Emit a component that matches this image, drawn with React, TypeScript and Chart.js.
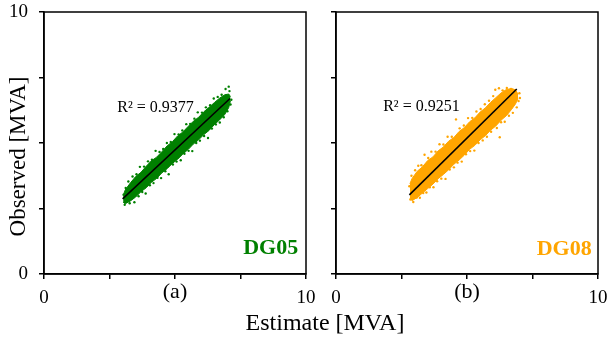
import React, { useEffect, useRef } from "react";
import { Chart, registerables } from "chart.js";

Chart.register(...registerables);

// ---------------- data ----------------
const tickValues = [0, 2.5, 5, 7.5, 10];
const shownTickLabels = ["0", "10"];

// Panel (a) DG05 — dense core of the cloud (upper / lower envelope) plus scattered edge points
const dg05BandX = [3.02, 3.1, 3.3, 3.5, 3.7, 3.9, 4.1, 4.3, 4.5, 4.7, 4.9, 5.1, 5.3, 5.5, 5.7, 5.9, 6.1, 6.3, 6.5, 6.7, 6.9, 7.05, 7.12];
const dg05BandHigh = [2.99, 3.21, 3.48, 3.72, 3.88, 4.11, 4.32, 4.46, 4.67, 4.89, 5.05, 5.27, 5.42, 5.63, 5.83, 5.98, 6.19, 6.36, 6.54, 6.71, 6.84, 6.87, 6.77];
const dg05BandLow = [2.74, 2.68, 2.79, 2.94, 3.14, 3.29, 3.5, 3.65, 3.86, 4.02, 4.22, 4.38, 4.58, 4.75, 4.96, 5.12, 5.32, 5.48, 5.7, 5.88, 6.09, 6.35, 6.62];
const dg05PointX = [3.04, 3.08, 3.12, 3.22, 3.27, 3.38, 3.45, 3.53, 3.61, 3.66, 3.75, 3.82, 3.88, 3.97, 4.04, 4.12, 4.18, 4.26, 4.33, 4.41, 4.47, 4.55, 4.63, 4.69, 4.76, 4.84, 4.92, 4.98, 5.06, 5.14, 5.22, 5.28, 5.36, 5.43, 5.52, 5.58, 5.66, 5.74, 5.81, 5.87, 5.95, 6.03, 6.11, 6.18, 6.26, 6.34, 6.41, 6.48, 6.56, 6.63, 6.71, 6.78, 6.86, 6.93, 7.0, 7.08, 7.12, 7.15, 7.05, 6.95];
const dg05PointY = [3.03, 2.64, 3.28, 3.53, 2.7, 3.72, 2.74, 3.81, 2.97, 4.09, 3.13, 4.1, 3.07, 4.3, 3.39, 4.36, 3.47, 4.7, 3.67, 4.66, 3.66, 4.77, 3.92, 5.0, 3.81, 5.04, 4.18, 5.34, 4.29, 5.33, 4.34, 5.48, 4.59, 5.72, 4.7, 5.73, 4.69, 5.93, 5.0, 6.17, 5.09, 6.16, 5.27, 6.36, 5.19, 6.44, 5.55, 6.7, 5.71, 6.76, 5.78, 6.84, 5.98, 7.06, 6.21, 6.98, 6.47, 6.65, 7.15, 6.81];
const dg05FitX = [3.0, 7.1];
const dg05FitY = [2.87, 6.7];
const dg05R2 = "R² = 0.9377";
const dg05Tag = "DG05";

// Panel (b) DG08
const dg08BandX = [2.82, 2.9, 3.1, 3.3, 3.5, 3.7, 3.9, 4.1, 4.3, 4.5, 4.7, 4.9, 5.1, 5.3, 5.5, 5.7, 5.9, 6.1, 6.3, 6.5, 6.7, 6.85, 6.95];
const dg08BandHigh = [3.44, 3.64, 3.92, 4.09, 4.33, 4.47, 4.7, 4.85, 5.07, 5.21, 5.44, 5.59, 5.81, 5.96, 6.18, 6.34, 6.55, 6.73, 6.91, 7.04, 7.08, 7.03, 6.86];
const dg08BandLow = [2.89, 2.8, 2.92, 3.09, 3.26, 3.43, 3.64, 3.8, 3.98, 4.19, 4.35, 4.54, 4.76, 4.91, 5.12, 5.28, 5.49, 5.65, 5.87, 6.04, 6.28, 6.49, 6.69];
const dg08PointX = [2.8, 2.84, 2.88, 2.95, 3.02, 3.08, 3.14, 3.2, 3.26, 3.33, 3.38, 3.45, 3.52, 3.58, 3.64, 3.72, 3.8, 3.86, 3.95, 4.02, 4.1, 4.18, 4.26, 4.34, 4.42, 4.5, 4.58, 4.64, 4.72, 4.8, 4.88, 4.96, 5.04, 5.12, 5.2, 5.28, 5.36, 5.44, 5.52, 5.6, 5.68, 5.76, 5.84, 5.92, 6.0, 6.08, 6.14, 6.22, 6.3, 6.36, 6.25, 6.44, 6.52, 6.6, 6.68, 6.75, 6.82, 6.9, 6.97, 7.0, 7.02];
const dg08PointY = [3.35, 2.84, 3.75, 2.75, 3.96, 2.92, 4.13, 2.91, 4.15, 3.09, 4.55, 3.11, 4.43, 3.31, 4.67, 3.31, 4.67, 3.54, 4.95, 3.64, 4.94, 3.63, 5.24, 3.99, 5.24, 4.07, 5.9, 4.25, 5.56, 4.29, 5.67, 4.57, 5.95, 4.69, 5.96, 4.71, 6.2, 5.0, 6.3, 5.1, 6.48, 5.24, 6.61, 5.43, 6.79, 7.03, 5.57, 7.09, 5.79, 7.01, 5.22, 5.81, 7.1, 6.04, 7.06, 6.15, 6.8, 6.36, 6.6, 6.9, 6.72];
const dg08FitX = [2.8, 6.9];
const dg08FitY = [3.02, 7.06];
const dg08R2 = "R² = 0.9251";
const dg08Tag = "DG08";

const yTitle = "Observed [MVA]";
const xTitle = "Estimate [MVA]";
const panelTitles = ["(a)", "(b)"];

// ---------------- styling ----------------
const FONT = '"Liberation Serif", "Times New Roman", serif';
const GREEN = "#008000";
const ORANGE = "#FFA500";
const CANVAS_H = 357;
const CANVAS_TOP = -20;

const framePlugin = {
  id: "frame",
  afterDraw(chart: any, _args: any, opts: any) {
    const { ctx, chartArea: a, scales } = chart;
    const xs = scales.x;
    const ys = scales.y;
    ctx.save();
    ctx.strokeStyle = "#000";
    ctx.lineWidth = 1.5;
    ctx.strokeRect(a.left, a.top, a.right - a.left, a.bottom - a.top);

    ctx.fillStyle = "#000";
    ctx.font = `16px ${FONT}`;
    ctx.textAlign = "left";
    ctx.textBaseline = "alphabetic";
    ctx.fillText(opts.r2, xs.getPixelForValue(opts.r2At[0]), ys.getPixelForValue(opts.r2At[1]));

    ctx.fillStyle = opts.color;
    ctx.font = `bold 22px ${FONT}`;
    ctx.textAlign = "right";
    ctx.fillText(opts.tag, xs.getPixelForValue(opts.tagAt[0]), ys.getPixelForValue(opts.tagAt[1]));

    if (opts.yTitle) {
      ctx.fillStyle = "#000";
      ctx.font = `23px ${FONT}`;
      ctx.save();
      ctx.translate(opts.yTitlePos[0], opts.yTitlePos[1]);
      ctx.rotate(-Math.PI / 2);
      ctx.textAlign = "center";
      ctx.textBaseline = "alphabetic";
      ctx.fillText(opts.yTitle, 0, 0);
      ctx.restore();
    }
    if (opts.xTitle) {
      ctx.fillStyle = "#000";
      ctx.font = `24px ${FONT}`;
      ctx.textAlign = "center";
      ctx.textBaseline = "alphabetic";
      ctx.fillText(opts.xTitle, opts.xTitlePos[0], opts.xTitlePos[1]);
    }
    ctx.restore();
  },
};

type PanelProps = {
  left: number;
  width: number;
  color: string;
  bandX: number[];
  bandHigh: number[];
  bandLow: number[];
  pointX: number[];
  pointY: number[];
  fitX: number[];
  fitY: number[];
  r2: string;
  r2At: number[];
  tag: string;
  tagAt: number[];
  title: string;
  showYLabels: boolean;
  extra?: any;
};

const toXY = (xs: number[], ys: number[]) => xs.map((x, i) => ({ x, y: ys[i] }));

function buildConfig(p: PanelProps): any {
  const grid = {
    display: true,
    drawOnChartArea: false,
    drawTicks: true,
    tickLength: 5,
    color: "#000",
    tickColor: "#000",
    lineWidth: 1.5,
  };
  const border = { display: true, color: "#000", width: 1.5 };
  const setTicks = (s: any) => {
    s.ticks = tickValues.map((v) => ({ value: v }));
  };
  return {
    type: "scatter",
    data: {
      datasets: [
        {
          label: "fit",
          data: toXY(p.fitX, p.fitY),
          showLine: true,
          borderColor: "#000",
          borderWidth: 1.6,
          pointRadius: 0,
          order: 0,
        },
        {
          label: p.tag,
          data: toXY(p.pointX, p.pointY),
          backgroundColor: p.color,
          borderWidth: 0,
          pointRadius: 1.2,
          order: 1,
        },
        {
          label: "low",
          data: toXY(p.bandX, p.bandLow),
          showLine: true,
          borderColor: p.color,
          borderWidth: 1,
          pointRadius: 0,
          fill: false,
          order: 2,
        },
        {
          label: "high",
          data: toXY(p.bandX, p.bandHigh),
          showLine: true,
          borderColor: p.color,
          borderWidth: 1,
          backgroundColor: p.color,
          pointRadius: 0,
          fill: "-1",
          order: 3,
        },
      ],
    },
    options: {
      responsive: false,
      animation: false,
      devicePixelRatio: 1,
      events: [],
      layout: { padding: { top: 32, right: p.width - 306, left: 0, bottom: 0 } },
      plugins: {
        legend: { display: false },
        tooltip: { enabled: false },
        frame: {
          r2: p.r2,
          r2At: p.r2At,
          tag: p.tag,
          tagAt: p.tagAt,
          color: p.color,
          ...(p.extra || {}),
        },
      },
      scales: {
        x: {
          type: "linear",
          min: 0,
          max: 10,
          afterBuildTicks: setTicks,
          afterFit: (s: any) => {
            s.height = 63;
          },
          ticks: {
            autoSkip: false,
            maxRotation: 0,
            padding: 8,
            color: "#000",
            font: { family: FONT, size: 19 },
            callback: (v: any) => (shownTickLabels.includes(String(v)) ? String(v) : ""),
          },
          grid,
          border,
          title: {
            display: true,
            text: p.title,
            color: "#000",
            font: { family: FONT, size: 22 },
            padding: { top: 0, bottom: 32 },
          },
        },
        y: {
          type: "linear",
          min: 0,
          max: 10,
          afterBuildTicks: setTicks,
          afterFit: (s: any) => {
            s.width = 44;
          },
          ticks: {
            autoSkip: false,
            padding: 11,
            color: "#000",
            font: { family: FONT, size: 19 },
            callback: (v: any) =>
              p.showYLabels && shownTickLabels.includes(String(v)) ? String(v) : "",
          },
          grid,
          border,
        },
      },
    },
    plugins: [framePlugin],
  };
}

function Panel(p: PanelProps) {
  const ref = useRef<HTMLCanvasElement>(null);
  useEffect(() => {
    const chart = new Chart(ref.current as HTMLCanvasElement, buildConfig(p));
    return () => chart.destroy();
  }, []);
  return (
    <canvas
      ref={ref}
      width={p.width}
      height={CANVAS_H}
      style={{ position: "absolute", left: p.left, top: CANVAS_TOP, width: p.width, height: CANVAS_H }}
    />
  );
}

export default function App() {
  return (
    <div
      style={{
        position: "fixed",
        left: 0,
        top: 0,
        width: 608,
        height: 337,
        overflow: "hidden",
        background: "#fff",
      }}
    >
      <Panel
        left={0}
        width={420}
        color={GREEN}
        bandX={dg05BandX}
        bandHigh={dg05BandHigh}
        bandLow={dg05BandLow}
        pointX={dg05PointX}
        pointY={dg05PointY}
        fitX={dg05FitX}
        fitY={dg05FitY}
        r2={dg05R2}
        r2At={[2.8, 6.2]}
        tag={dg05Tag}
        tagAt={[9.7, 0.78]}
        title={panelTitles[0]}
        showYLabels={true}
        extra={{ yTitle, yTitlePos: [25, 176.5], xTitle, xTitlePos: [325, 350] }}
      />
      <Panel
        left={292}
        width={340}
        color={ORANGE}
        bandX={dg08BandX}
        bandHigh={dg08BandHigh}
        bandLow={dg08BandLow}
        pointX={dg08PointX}
        pointY={dg08PointY}
        fitX={dg08FitX}
        fitY={dg08FitY}
        r2={dg08R2}
        r2At={[1.8, 6.24]}
        tag={dg08Tag}
        tagAt={[9.76, 0.74]}
        title={panelTitles[1]}
        showYLabels={false}
      />
    </div>
  );
}
